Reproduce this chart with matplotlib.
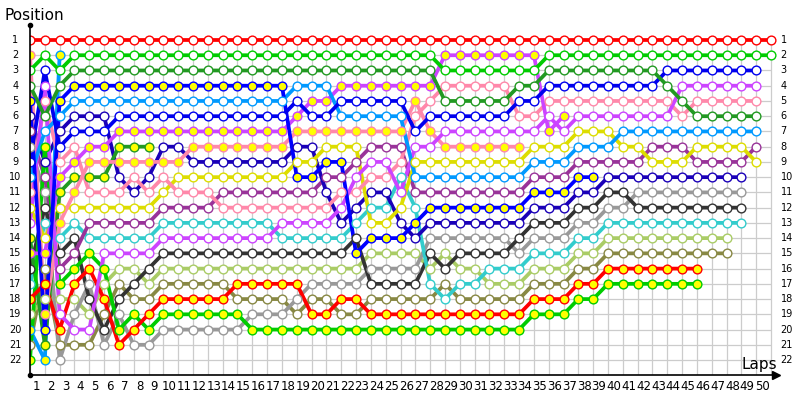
import matplotlib
matplotlib.use('Agg')
import matplotlib.pyplot as plt

# ---- data: position of each car at every lap (index = lap, 0 = grid) ----
red_w = [1, 1, 1, 1, 1, 1, 1, 1, 1, 1, 1, 1, 1, 1, 1, 1, 1, 1, 1, 1, 1, 1, 1, 1, 1, 1,
         1, 1, 1, 1, 1, 1, 1, 1, 1, 1, 1, 1, 1, 1, 1, 1, 1, 1, 1, 1, 1, 1, 1, 1, 1]
grn_w = [3, 2, 3, 2, 2, 2, 2, 2, 2, 2, 2, 2, 2, 2, 2, 2, 2, 2, 2, 2, 2, 2, 2, 2, 2, 2,
         2, 2, 3, 3, 3, 3, 3, 3, 3, 2, 2, 2, 2, 2, 2, 2, 2, 2, 2, 2, 2, 2, 2, 2, 2]
dkg_w = [4, 6, 4, 3, 3, 3, 3, 3, 3, 3, 3, 3, 3, 3, 3, 3, 3, 3, 3, 3, 3, 3, 3, 3, 3, 3,
         3, 3, 5, 5, 5, 5, 5, 4, 4, 3, 3, 3, 3, 3, 3, 3, 3, 4, 5, 6, 6, 6, 6, 6]
mag_w = [13, 4, 19, 20, 20, 15, 15, 15, 15, 14, 14, 14, 14, 14, 14, 14, 14, 13, 13, 13,
         13, 12, 10, 9, 9, 11, 8, 8, 7, 7, 7, 7, 7, 7, 7, 6, 7, 6, 6, 6, 6, 6, 6, 6,
         4, 4, 4, 4, 4, 4]
pnk_w = [11, 5, 9, 8, 11, 11, 11, 10, 11, 10, 11, 11, 11, 12, 12, 12, 12, 12, 12, 12,
         12, 11, 11, 10, 10, 9, 6, 5, 4, 4, 4, 4, 4, 6, 6, 5, 5, 5, 5, 5, 5, 5, 5, 5,
         6, 5, 5, 5, 5, 5]
blu_w = [9, 3, 8, 7, 7, 7, 6, 6, 6, 6, 6, 6, 6, 6, 6, 6, 6, 6, 5, 6, 6, 5, 5, 5, 5, 5,
         7, 6, 6, 6, 6, 6, 6, 5, 5, 4, 4, 4, 4, 4, 4, 4, 4, 3, 3, 3, 3, 3, 3, 3]
lbl_w = [10, 7, 6, 5, 5, 5, 5, 5, 5, 5, 5, 5, 5, 5, 5, 5, 5, 5, 4, 4, 4, 6, 6, 6, 6, 6,
         10, 10, 10, 10, 10, 10, 10, 10, 9, 9, 9, 8, 8, 8, 7, 7, 7, 7, 7, 7, 7, 7, 7, 7]
yel_w = [12, 14, 12, 12, 12, 12, 12, 12, 12, 11, 10, 10, 10, 10, 10, 10, 10, 10, 9, 9,
         8, 8, 8, 13, 13, 12, 9, 9, 9, 9, 9, 9, 9, 9, 8, 8, 8, 7, 7, 7, 8, 8, 9, 9, 9,
         8, 8, 8, 8, 9]
pur_w = [7, 10, 16, 15, 13, 13, 13, 13, 13, 12, 12, 12, 12, 11, 11, 11, 11, 11, 11, 11,
         10, 10, 9, 8, 8, 8, 11, 11, 11, 11, 11, 11, 11, 11, 10, 10, 10, 9, 9, 9, 9, 9,
         8, 8, 8, 9, 9, 9, 9, 8]
nav_w = [6, 9, 7, 6, 6, 6, 10, 11, 10, 8, 8, 9, 9, 9, 9, 9, 9, 9, 8, 8, 11, 13, 12, 11,
         11, 13, 14, 13, 13, 13, 13, 13, 13, 13, 12, 12, 12, 11, 11, 10, 10, 10, 10, 10,
         10, 10, 10, 10, 10]
cyn_w = [17, 13, 14, 13, 14, 14, 14, 14, 14, 13, 13, 13, 13, 13, 13, 13, 13, 14, 14, 14,
         14, 14, 13, 12, 12, 10, 12, 17, 18, 17, 17, 16, 16, 16, 15, 15, 15, 14, 14, 13,
         13, 13, 13, 13, 13, 13, 13, 13, 13]
blk_w = [16, 12, 15, 14, 18, 20, 18, 17, 16, 15, 15, 15, 15, 15, 15, 15, 15, 15, 15, 15,
         15, 15, 14, 17, 17, 17, 17, 15, 16, 15, 15, 15, 15, 14, 13, 13, 13, 12, 12, 11,
         11, 12, 12, 12, 12, 12, 12, 12, 12]
lgr_w = [19, 18, 18, 18, 19, 17, 16, 16, 17, 16, 16, 16, 16, 16, 16, 16, 16, 16, 16, 16,
         16, 16, 16, 15, 15, 15, 15, 16, 15, 16, 16, 17, 17, 17, 16, 16, 16, 15, 15, 14,
         14, 14, 14, 14, 14, 14, 14, 14]
gry_w = [8, 11, 22, 19, 17, 21, 19, 21, 21, 20, 20, 20, 20, 20, 20, 19, 19, 19, 18, 17,
         17, 17, 17, 16, 16, 16, 16, 14, 14, 14, 14, 14, 14, 15, 14, 14, 14, 13, 13, 12,
         12, 11, 11, 11, 11, 11, 11, 11, 11]
olv_w = [21, 16, 21, 21, 21, 19, 17, 18, 18, 17, 17, 17, 17, 17, 18, 18, 18, 18, 19, 18,
         18, 19, 19, 18, 18, 18, 18, 18, 17, 18, 18, 18, 18, 18, 17, 17, 17, 16, 16, 15,
         15, 15, 15, 15, 15, 15, 15, 15]
red_y = [18, 17, 20, 17, 16, 18, 21, 20, 19, 18, 18, 18, 18, 18, 17, 17, 17, 17, 17, 19,
         19, 18, 18, 19, 19, 19, 19, 19, 19, 19, 19, 19, 19, 19, 18, 18, 18, 17, 17, 16,
         16, 16, 16, 16, 16, 16]
grn_y = [22, 8, 17, 16, 15, 16, 20, 19, 20, 19, 19, 19, 19, 19, 19, 20, 20, 20, 20, 20,
         20, 20, 20, 20, 20, 20, 20, 20, 20, 20, 20, 20, 20, 20, 19, 19, 19, 18, 18, 17,
         17, 17, 17, 17, 17, 17]
pnk_y = [2, 19, 13, 11, 9, 9, 9, 9, 9, 9, 9, 8, 8, 8, 8, 8, 8, 8, 7, 7, 7, 7, 7, 7, 7,
         7, 5, 7, 8, 8, 8, 8, 8, 8]
mag_y = [15, 15, 10, 9, 8, 8, 7, 7, 7, 7, 7, 7, 7, 7, 7, 7, 7, 7, 6, 5, 5, 4, 4, 4, 4, 4,
         4, 4, 2, 2, 2, 2, 2, 2, 2, 7, 6]
blu_y = [5, 20, 5, 4, 4, 4, 4, 4, 4, 4, 4, 4, 4, 4, 4, 4, 4, 4, 10, 10, 9, 9, 15, 14, 14,
         14, 13, 12, 12, 12, 12, 12, 12, 12, 11, 11, 11, 10, 10]
dkg_y = [14, 21, 11, 10, 10, 10, 8, 8, 8]
lbl_y = [20, 22, 2]

WHITE = '#ffffff'
YELLOW = '#ffff00'
cars = [
    (olv_w, '#888844', WHITE), (lgr_w, '#aacc66', WHITE), (gry_w, '#999999', WHITE),
    (blk_w, '#333333', WHITE), (cyn_w, '#33cccc', WHITE), (pur_w, '#993399', WHITE),
    (nav_w, '#1a00b8', WHITE), (yel_w, '#dddd00', WHITE), (lbl_y, '#0099ff', YELLOW),
    (dkg_y, '#229922', YELLOW), (grn_y, '#00cc00', YELLOW), (red_y, '#ff0000', YELLOW),
    (pnk_w, '#ff88aa', WHITE), (pnk_y, '#ff88aa', YELLOW), (mag_w, '#cc44ff', WHITE),
    (mag_y, '#cc44ff', YELLOW), (lbl_w, '#0099ff', WHITE), (blu_y, '#0000ff', YELLOW),
    (blu_w, '#0000ee', WHITE), (dkg_w, '#229922', WHITE), (grn_w, '#00cc00', WHITE),
    (red_w, '#ff0000', WHITE),
]
n_laps = 50
n_pos = 22

fig = plt.figure(figsize=(8, 4), dpi=100)
ax = fig.add_axes([30 / 800, 25 / 400, 750 / 800, 353 / 400])
ax.set_xlim(0, 750 / 14.82)
ax.set_ylim(1 + 335 / 15.24, 1 - 18 / 15.24)
ax.axis('off')

grid_c = '#cccccc'
ax.vlines(range(0, n_laps + 1), 1, 1 + 335 / 15.24, color=grid_c, lw=0.9, zorder=0)
ax.hlines(range(1, n_pos + 1), 0, n_laps, color=grid_c, lw=0.9, zorder=0)

for pos, color, fill in cars:
    xs = list(range(len(pos)))
    ax.plot(xs, pos, color=color, lw=2.7, solid_joinstyle='round',
            solid_capstyle='round', zorder=2)
for pos, color, fill in cars:
    xs = list(range(len(pos)))
    ax.plot(xs, pos, linestyle='none', marker='o', ms=6.3, mfc=fill, mec=color,
            mew=1.0, zorder=3)

# axes with arrows
ybot = 1 + 335 / 15.24
ax.plot([0, 0], [ybot, 1 - 15 / 15.24], color='black', lw=1.2, clip_on=False, zorder=4)
ax.plot([0, 50.35], [ybot, ybot], color='black', lw=1.2, clip_on=False, zorder=4)
ax.plot([0], [1 - 15 / 15.24], marker='o', ms=3, color='black', clip_on=False, zorder=4)
ax.plot([0], [ybot], marker='o', ms=3, color='black', clip_on=False, zorder=4)
ax.plot([50.35], [ybot], marker='>', ms=6, color='black', clip_on=False, zorder=4)

for p in range(1, n_pos + 1):
    ax.text(-1.0, p, str(p), ha='center', va='center', fontsize=7, clip_on=False)
    ax.text(50.65, p, str(p), ha='left', va='center', fontsize=7, clip_on=False)
for k in range(1, n_laps + 1):
    ax.text(k - 0.6, 1 + 347 / 15.24, str(k), ha='center', va='center', fontsize=8.5,
            clip_on=False)

fig.text(4 / 800, 1 - 15 / 400, 'Position', ha='left', va='center', fontsize=11)
fig.text(759 / 800, 1 - 364 / 400, 'Laps', ha='center', va='center', fontsize=11)

fig.savefig('out.png', dpi=100)
